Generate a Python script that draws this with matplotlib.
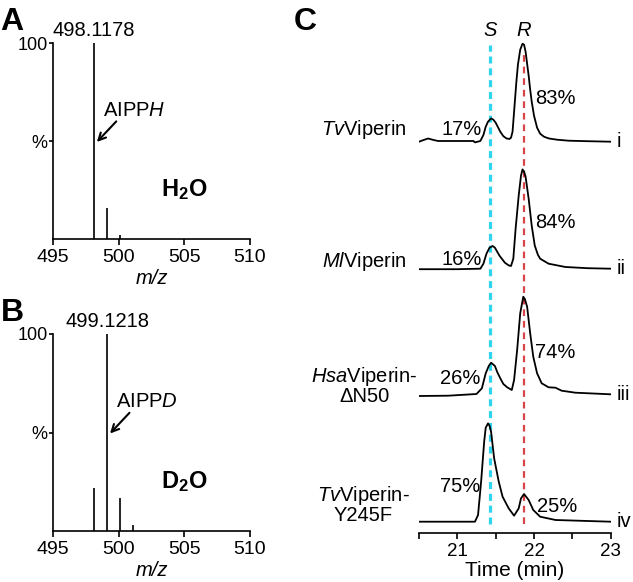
import matplotlib
matplotlib.use("Agg")
import matplotlib.pyplot as plt

plt.rcParams['font.family'] = ['Liberation Sans', 'DejaVu Sans']
plt.rcParams['mathtext.fontset'] = 'custom'
plt.rcParams['mathtext.rm'] = 'Liberation Sans'
plt.rcParams['mathtext.it'] = 'Liberation Sans:italic'
plt.rcParams['mathtext.bf'] = 'Liberation Sans:bold'

# mass spectra (m/z, relative intensity %)
h2o_mz = [498.1178, 499.12, 500.12]
h2o_int = [100, 16, 2]
d2o_mz = [498.12, 499.1218, 500.12, 501.12]
d2o_int = [22, 100, 17, 3]

# chromatograms: time (min) and intensity (a.u.)
tv_t = [20.50, 20.56, 20.62, 20.69, 20.75, 21.21, 21.23, 21.30, 21.34, 21.37, 21.40,
        21.44, 21.47, 21.50, 21.53, 21.56, 21.60, 21.64, 21.68, 21.70, 21.72, 21.75,
        21.77, 21.79, 21.82, 21.85, 21.87, 21.89, 21.91, 21.93, 21.95, 21.97, 22.00,
        22.04, 22.08, 22.13, 22.19, 22.30, 22.45, 22.70, 23.00]
tv_i = [0, 1.7, 3.2, 1.7, 0.7, 0.7, -0.7, 0.7, 6.7, 15, 20,
        23.3, 22, 19, 14.5, 10, 5.5, 3.3, 2.7, 4, 10, 40,
        60, 77, 92, 98, 97, 90, 78, 66, 52, 40, 26,
        14, 8, 5, 3.3, 2, 1, 0.5, 0]

ml_t = [20.50, 21.00, 21.30, 21.34, 21.38, 21.42, 21.46, 21.49, 21.51, 21.55, 21.58,
        21.62, 21.67, 21.70, 21.73, 21.76, 21.80, 21.83, 21.85, 21.87, 21.89, 21.93,
        21.97, 22.01, 22.05, 22.08, 22.19, 22.41, 22.70, 23.00]
ml_i = [-0.5, -0.5, 0, 5, 15, 21, 22.7, 21, 18.3, 13, 10,
        6, 3.3, 2.7, 10, 40, 73, 93, 99.3, 97, 92, 70,
        43, 23, 14, 10, 5, 1.7, 0.5, 0]

hsa_t = [20.50, 20.88, 21.25, 21.32, 21.37, 21.41, 21.44, 21.49, 21.52, 21.56, 21.60,
         21.65, 21.71, 21.74, 21.78, 21.82, 21.86, 21.88, 21.91, 21.95, 21.99, 22.04,
         22.10, 22.19, 22.28, 22.36, 22.54, 23.00]
hsa_i = [-1, -0.7, 1, 6.7, 21.7, 29, 32.3, 29, 23, 16.7, 11,
         7.7, 5, 15, 45, 81.7, 98.3, 96, 88.3, 61.7, 38.3, 21.7,
         11.7, 7.7, 7.3, 4.3, 2.3, 0.7]

y245f_t = [20.50, 21.23, 21.27, 21.31, 21.35, 21.37, 21.40, 21.42, 21.44, 21.48, 21.54,
           21.59, 21.67, 21.74, 21.80, 21.83, 21.87, 21.93, 21.99, 22.08, 22.28, 23.00]
y245f_i = [0, 0, 6.7, 40, 80, 94, 98.3, 96, 90, 63.3, 40,
           25, 13.3, 6, 13.3, 23.3, 27.7, 21.7, 11.7, 5, 1.7, 0]

trace_t = [tv_t, ml_t, hsa_t, y245f_t]
trace_i = [tv_i, ml_i, hsa_i, y245f_i]
trace_names = [r"$\mathit{Tv}$Viperin", r"$\mathit{Ml}$Viperin",
               "$\\mathit{Hsa}$Viperin-\n\u0394N50", "$\\mathit{Tv}$Viperin-\nY245F"]
trace_ids = ["i", "ii", "iii", "iv"]
s_pct = [17, 16, 26, 75]
r_pct = [83, 84, 74, 25]
s_time = 21.43
r_time = 21.87

FS = 14.5

fig = plt.figure(figsize=(6.33, 5.82), dpi=100)


def ms_panel(ax, mz, inten, top_label, species, solvent):
    ax.vlines(mz, 0, inten, color='black', lw=1.2)
    ax.set_xlim(495, 510)
    ax.set_ylim(0, 100)
    for s in ['top', 'right']:
        ax.spines[s].set_visible(False)
    for s in ['left', 'bottom']:
        ax.spines[s].set_linewidth(1.2)
    ax.set_xticks([495, 500, 505, 510])
    ax.set_yticks([50, 100])
    ax.set_yticklabels(['%', '100'])
    ax.tick_params(axis='x', direction='out', length=4, width=1.2, labelsize=14, pad=3)
    ax.tick_params(axis='y', direction='out', length=3, width=1.2, labelsize=13, pad=1)
    ax.set_xlabel('m/z', style='italic', fontsize=FS, labelpad=2)
    top_mz = mz[inten.index(max(inten))]
    ax.text(top_mz, 106.5, top_label, ha='center', va='center', fontsize=FS, clip_on=False)
    ax.text(top_mz + 0.7, 65.5, species, ha='left', va='center', fontsize=FS)
    ax.annotate('', xy=(top_mz + 0.22, 49.5), xytext=(top_mz + 1.7, 60),
                arrowprops=dict(arrowstyle='->', lw=1.5, color='black', mutation_scale=13,
                                shrinkA=0, shrinkB=0))
    ax.text(505.0, 25, solvent, ha='center', va='center', fontsize=17)


ax_a = fig.add_axes([53 / 633, 1 - 239 / 582, 197 / 633, 196 / 582])
ms_panel(ax_a, h2o_mz, h2o_int, '498.1178', r'AIPP$\mathit{H}$', r'$\mathbf{H_2O}$')
ax_b = fig.add_axes([53 / 633, 1 - 531 / 582, 197 / 633, 197 / 582])
ms_panel(ax_b, d2o_mz, d2o_int, '499.1218', r'AIPP$\mathit{D}$', r'$\mathbf{D_2O}$')

# panel C, y in pixel-like units above the lowest baseline
ax_c = fig.add_axes([419 / 633, 1 - 533 / 582, 191.7 / 633, 513 / 582])
ax_c.set_xlim(20.5, 23)
ax_c.set_ylim(-11.3, 501.7)
offsets = [380, 253, 126.7, 0]
ax_c.vlines(s_time, -2, 477, color='#2fd5ee', lw=2.3, linestyles=(0, (2.2, 1.5)), zorder=1)
ax_c.vlines(r_time, -2, 470, color='#d9434a', lw=1.6, linestyles=(0, (3, 2.2)), zorder=1)
for t, inten, off in zip(trace_t, trace_i, offsets):
    ax_c.plot(t, [v + off for v in inten], color='black', lw=1.3, zorder=2)

name_pos = [(20.34, 392), (20.34, 260), (19.79, 136), (19.77, 17)]
for name, tid, off, (x, y) in zip(trace_names, trace_ids, offsets, name_pos):
    ax_c.text(23.08, off, tid, ha='left', va='center', fontsize=FS, clip_on=False)
    if '\n' in name:
        ax_c.text(x, y, name, ha='center', va='center', multialignment='center',
                  fontsize=FS, clip_on=False, linespacing=0.95)
    else:
        ax_c.text(x, y, name, ha='right', va='center', fontsize=FS, clip_on=False)

s_pos = [(21.06, 392), (21.06, 262), (21.035, 142.7), (21.035, 34.7)]
r_pos = [(22.275, 423.7), (22.275, 299.7), (22.275, 169.7), (22.30, 14.7)]
for p, (x, y) in zip(s_pct, s_pos):
    ax_c.text(x, y, f'{p}%', ha='center', va='center', fontsize=FS)
for p, (x, y) in zip(r_pct, r_pos):
    ax_c.text(x, y, f'{p}%', ha='center', va='center', fontsize=FS)
ax_c.text(s_time, 491.7, 'S', style='italic', ha='center', va='center', fontsize=FS)
ax_c.text(r_time, 491.7, 'R', style='italic', ha='center', va='center', fontsize=FS)

for s in ['top', 'right', 'left']:
    ax_c.spines[s].set_visible(False)
ax_c.spines['bottom'].set_linewidth(1.2)
ax_c.set_yticks([])
ax_c.set_xticks([21, 22, 23])
ax_c.set_xticks([20.5, 21.5, 22.5], minor=True)
ax_c.tick_params(axis='x', which='both', direction='out', length=4, width=1.2,
                 labelsize=13.5, pad=3)
ax_c.set_xlabel('Time (min)', fontsize=15, labelpad=1)

fig.text(0.5 / 633, 1 - 7 / 582, 'A', fontsize=23, fontweight='bold', va='top', ha='left')
fig.text(0.5 / 633, 1 - 298 / 582, 'B', fontsize=23, fontweight='bold', va='top', ha='left')
fig.text(294 / 633, 1 - 7 / 582, 'C', fontsize=23, fontweight='bold', va='top', ha='left')

fig.savefig('out.png', dpi=100)
